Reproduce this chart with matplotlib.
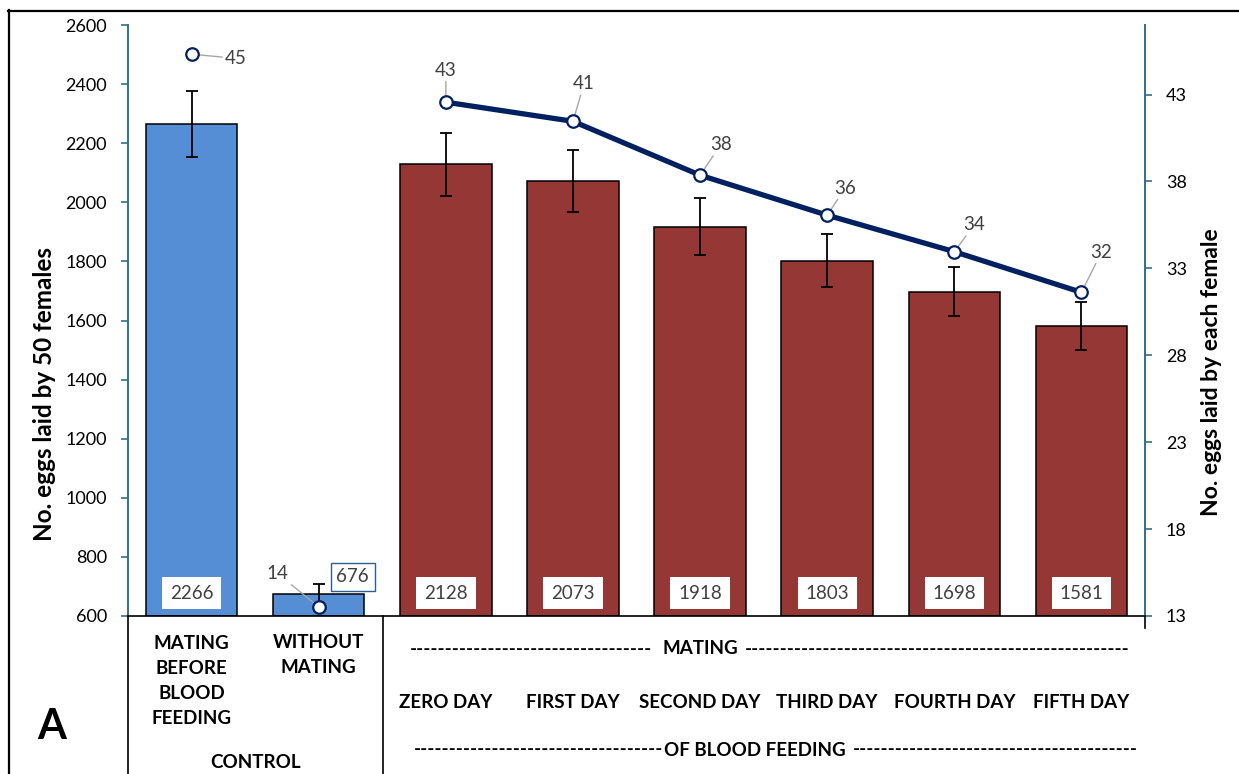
import matplotlib
matplotlib.use("Agg")
import matplotlib.pyplot as plt
import matplotlib.transforms as mtransforms
from matplotlib.lines import Line2D

plt.rcParams['font.family'] = ['Lato', 'DejaVu Sans']

# eggs laid by 50 females (bars) with error bars
groups = ['MATING\nBEFORE\nBLOOD\nFEEDING', 'WITHOUT\nMATING',
          'ZERO DAY', 'FIRST DAY', 'SECOND DAY', 'THIRD DAY', 'FOURTH DAY', 'FIFTH DAY']
eggs_50 = [2266, 676, 2128, 2073, 1918, 1803, 1698, 1581]
eggs_err = [112, 33, 107, 105, 95, 90, 83, 80]

# eggs laid by each female (right axis)
ctrl_x = [0, 1]
ctrl_each = [45.32, 13.52]
day_x = [2, 3, 4, 5, 6, 7]
day_each = [42.56, 41.46, 38.36, 36.06, 33.96, 31.62]

left_ticks = [600, 800, 1000, 1200, 1400, 1600, 1800, 2000, 2200, 2400, 2600]
right_ticks = [13, 18, 23, 28, 33, 38, 43]

W, H = 1239, 774
BLUE = '#558ed5'
RED = '#953735'
NAVY = '#002060'
TEAL = '#31708a'
GREY = '#404040'
CAT_FS = 13.5

fig = plt.figure(figsize=(W / 100, H / 100), dpi=100)
ax = fig.add_axes([128 / W, (H - 616) / H, (1145 - 128) / W, (616 - 25) / H])

def fx(px):
    return px / W

def fy(py):
    return (H - py) / H

colors = [BLUE, BLUE] + [RED] * 6
xs = list(range(len(eggs_50)))
ax.bar(xs, [v - 600 for v in eggs_50], bottom=600, width=0.72, color=colors,
       edgecolor='black', linewidth=1.1, zorder=2)
ax.errorbar(xs, eggs_50, yerr=eggs_err, fmt='none', ecolor='black',
            elinewidth=1.3, capsize=4.5, capthick=1.3, zorder=3)

ax.set_xlim(-0.5, 7.5)
ax.set_ylim(600, 2600)
ax.set_yticks(left_ticks)
ax.set_xticks([])
ax.tick_params(axis='y', direction='out', length=5, width=1.2, color=TEAL,
               pad=10, labelsize=13)
for s in ['top', 'right']:
    ax.spines[s].set_visible(False)
ax.spines['left'].set_color(TEAL)
ax.spines['left'].set_linewidth(1.4)
ax.spines['bottom'].set_color('black')
ax.spines['bottom'].set_linewidth(1.2)

# value boxes inside bars
for i, v in enumerate(eggs_50):
    if i == 1:
        ax.annotate(f'{v}', xy=(i, v), xytext=(24.5, 12), textcoords='offset points',
                    ha='center', va='center', fontsize=13.5, color=GREY, zorder=5,
                    bbox=dict(boxstyle='square,pad=0.3', fc='white', ec='#2e5e8e', lw=1.0))
    else:
        ax.annotate(f'{v}', xy=(i, 600), xytext=(0, 16.5), textcoords='offset points',
                    ha='center', va='center', fontsize=13.5, color=GREY, zorder=5,
                    bbox=dict(boxstyle='square,pad=0.42', fc='white', ec='none'))

ax2 = ax.twinx()
ax2.set_ylim(13, 47)
ax2.set_yticks(right_ticks)
for s in ['top', 'left', 'bottom']:
    ax2.spines[s].set_visible(False)
ax2.spines['right'].set_color(TEAL)
ax2.spines['right'].set_linewidth(1.4)
ax2.tick_params(axis='y', direction='out', length=5, width=1.2, color=TEAL,
                pad=10, labelsize=13)

ax2.plot(day_x, day_each, color=NAVY, linewidth=3.8, marker='o', markersize=9,
         markerfacecolor='white', markeredgecolor=NAVY, markeredgewidth=1.6,
         zorder=4, solid_capstyle='round')
ax2.plot(ctrl_x, ctrl_each, linestyle='none', marker='o', markersize=9,
         markerfacecolor='white', markeredgecolor=NAVY, markeredgewidth=1.6, zorder=4)

# per-female labels with leader lines
ctrl_off = [(32, -3), (-29.5, 24)]
day_off = [(0, 23), (8, 27), (15, 22), (13, 19.5), (14.5, 19.5), (14.5, 29)]
leader = dict(arrowstyle='-', color='#a6a6a6', lw=1.0, shrinkA=0, shrinkB=0)
for x, v, off in list(zip(ctrl_x, ctrl_each, ctrl_off)) + list(zip(day_x, day_each, day_off)):
    ax2.annotate(f'{v:.0f}', xy=(x, v), xytext=off, textcoords='offset points',
                 ha='center', va='center', fontsize=13.5, color=GREY,
                 arrowprops=leader, zorder=3)

fig.text(fx(45), fy(394), 'No. eggs laid by 50 females', rotation=90, ha='center',
         va='center', fontsize=17.5, fontweight='bold')
fig.text(fx(1212), fy(372), 'No. eggs laid by each female', rotation=90, ha='center',
         va='center', fontsize=16.5, fontweight='bold')

# category labels below the axis
trans = mtransforms.blended_transform_factory(ax.transData, fig.transFigure)
fig.text(0, fy(681), groups[0], transform=trans, ha='center', va='center',
         fontsize=CAT_FS, fontweight='bold', linespacing=1.58)
fig.text(1, fy(655), groups[1], transform=trans, ha='center', va='center',
         fontsize=CAT_FS, fontweight='bold', linespacing=1.58)
fig.text(0.5, fy(763), 'CONTROL', transform=trans, ha='center', va='center',
         fontsize=CAT_FS, fontweight='bold')
for i in range(2, 8):
    fig.text(i, fy(702), groups[i], transform=trans, ha='center', va='center',
             fontsize=CAT_FS, fontweight='bold')

renderer = fig.canvas.get_renderer()

def dash_run(x0, x1, y):
    t = fig.text(fx(x0), fy(y), '-' * 20, ha='left', va='center',
                 fontsize=CAT_FS, fontweight='bold')
    w = t.get_window_extent(renderer).width / 20
    t.set_text('-' * max(1, round((x1 - x0) / w)))

dash_run(410, 649, 649)
fig.text(fx(700), fy(649), 'MATING', ha='center', va='center', fontsize=CAT_FS,
         fontweight='bold')
dash_run(745, 1129, 649)
dash_run(414, 660, 750)
fig.text(fx(755), fy(750), 'OF BLOOD FEEDING', ha='center', va='center',
         fontsize=CAT_FS, fontweight='bold')
dash_run(853, 1135, 750)

fig.text(fx(52), fy(727), 'A', ha='center', va='center', fontsize=30, fontweight='bold')

# table rules and outer frame
def fig_line(x0, y0, x1, y1, lw=1.2, color='black'):
    fig.add_artist(Line2D([fx(x0), fx(x1)], [fy(y0), fy(y1)], color=color, lw=lw))

fig_line(128, 616, 128, 774)
fig_line(383, 616, 383, 774)
fig_line(1145, 616, 1145, 628)
fig_line(8.5, 10, 8.5, 774, lw=1.6)
fig_line(8, 10.5, 1239, 10.5, lw=1.6)

fig.savefig('out.png', dpi=100)
